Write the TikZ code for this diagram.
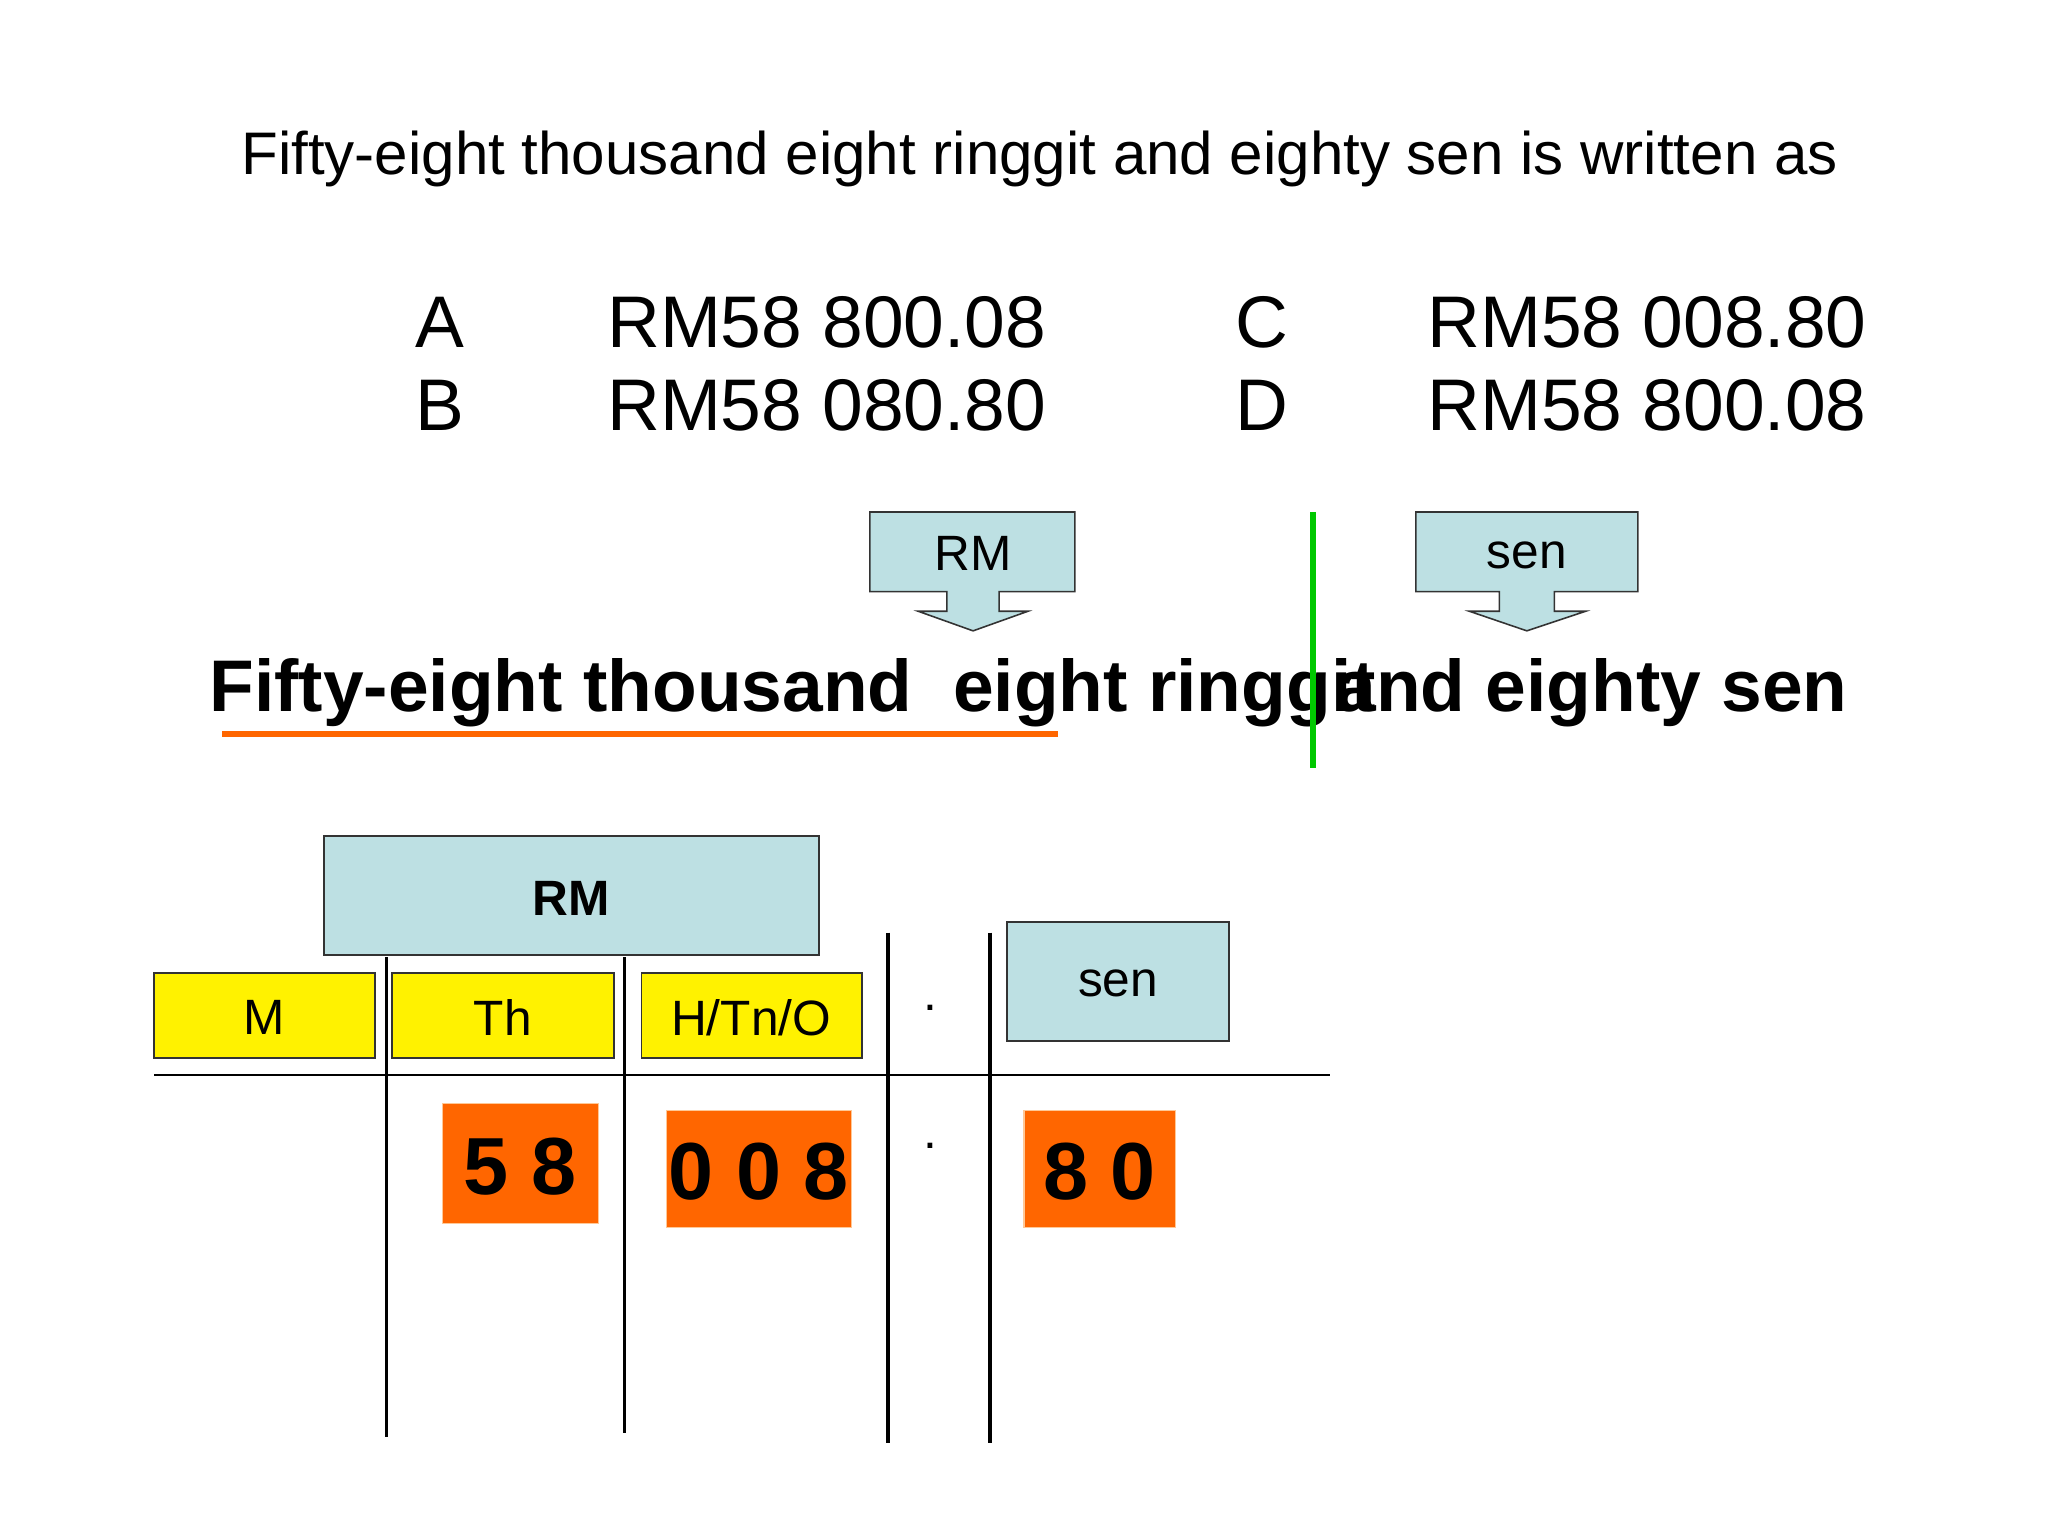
\documentclass[tikz,border=0pt]{standalone}
\usepackage{fontspec}
\setmainfont{Liberation Sans}
\definecolor{lblue}{RGB}{189,224,227}
\definecolor{orng}{RGB}{255,102,0}
\definecolor{orngb}{RGB}{255,200,150}
\definecolor{grn}{RGB}{0,200,0}
\begin{document}
\begin{tikzpicture}[x=0.5pt,y=-0.5pt,
  lb/.style={fill=lblue,draw=black!80,line width=0.6pt},
  yb/.style={fill=yellow,draw=black!80,line width=0.6pt},
  ob/.style={fill=orng,draw=orngb,line width=0.4pt},
  vl/.style={line width=1.3pt},
  t/.style={font=\fontsize{19}{22}\selectfont},
  big/.style={font=\fontsize{31}{34}\selectfont\bfseries}]
\useasboundingbox (0,0) rectangle (1568,1176);
\node (title) at (796,122) {\fontsize{23}{26}\selectfont Fifty-eight thousand eight ringgit and eighty sen is written as};
\begin{scope}[every node/.style={font=\fontsize{28}{30}\selectfont}]
\node (A) at (337,247) {A}; \node (Av) at (633,247) {RM58 800.08};
\node (B) at (337,310) {B}; \node (Bv) at (633,310) {RM58 080.80};
\node (C) at (966,247) {C}; \node (Cv) at (1261,247) {RM58 008.80};
\node (D) at (966,310) {D}; \node (Dv) at (1261,310) {RM58 800.08};
\end{scope}
\draw[lb] (666,392) -- (823,392) -- (823,453) -- (765,453) -- (765,468) -- (787,468) -- (745,483) -- (703,468) -- (725,468) -- (725,453) -- (666,453) -- cycle;
\node[t] (rmc) at (745,424) {RM};
\draw[lb] (1084,392) -- (1254,392) -- (1254,453) -- (1190,453) -- (1190,468) -- (1214,468) -- (1169,483) -- (1125,468) -- (1148,468) -- (1148,453) -- (1084,453) -- cycle;
\node[t] (senc) at (1169,425) {sen};
\node[anchor=base west,inner sep=0,font=\fontsize{28}{30}\selectfont\bfseries] (s1) at (160,545) {Fifty-eight thousand \ eight ringgit};
\node[anchor=base west,inner sep=0,font=\fontsize{28}{30}\selectfont\bfseries] (s2) at (1022,545) {and eighty sen};
\draw[line width=2.6pt,orng] (170,562) -- (810,562);
\draw[line width=2.2pt,grn] (1005,392) -- (1005,588);
\draw[lb] (248,640) rectangle (627,731);
\node[font=\fontsize{19}{22}\selectfont\bfseries] (rmb) at (437,688) {RM};
\draw[lb] (771,706) rectangle (941,797); \node[t] (senb) at (856,753) {sen};
\draw[yb] (118,745) rectangle (287,810); \node[t] (M) at (202,779) {M};
\draw[yb] (300,745) rectangle (470,810); \node[t] (Th) at (385,779) {Th};
\draw[yb] (491,745) rectangle (660,810); \node[t] (H) at (575,779) {H/Tn/O};
\draw[line width=0.8pt] (118,823) -- (1018,823);
\draw[vl] (296,733) -- (296,1100);
\draw[vl] (478,733) -- (478,1097);
\draw[vl] (680,714) -- (680,1105);
\draw[vl] (758,714) -- (758,1105);
\node[t] (d1) at (712,772) {.};
\node[t] (d2) at (712,877) {.};
\draw[ob] (339,845) rectangle (458,937); \node[big] (n1) at (398,893) {5 8};
\draw[ob] (510,850) rectangle (652,940); \node[big] (n2) at (581,897) {0 0 8};
\draw[ob] (784,850) rectangle (900,940); \node[big] (n3) at (842,897) {8 0};
\end{tikzpicture}
\end{document}
